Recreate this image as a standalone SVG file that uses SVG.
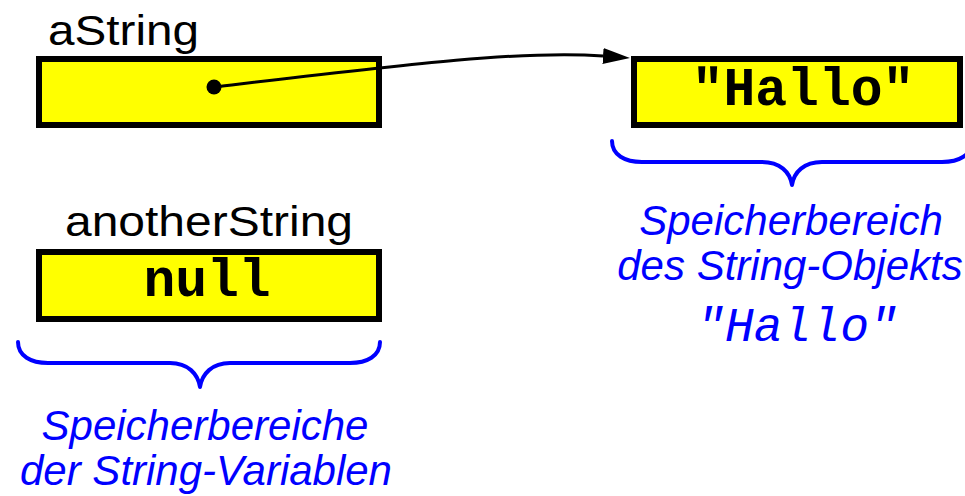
<svg xmlns="http://www.w3.org/2000/svg" width="965" height="496" viewBox="0 0 965 496">
  <defs>
    <style>
      .box { fill: #FFFF00; stroke: #000000; stroke-width: 6; }
      .label { font-family: "Liberation Sans", Arial, sans-serif; font-size: 43px; fill: #000000; }
      .code { font-family: "Liberation Mono", "Courier New", monospace; font-weight: bold; font-size: 53px; fill: #000000; text-anchor: middle; }
      .note { font-family: "Liberation Sans", Arial, sans-serif; font-style: italic; font-size: 42px; fill: #0000FF; text-anchor: middle; }
      .notecode { font-family: "Liberation Mono", "Courier New", monospace; font-style: italic; font-size: 48px; fill: #0000FF; text-anchor: middle; }
      .brace { fill: none; stroke: #0000FF; stroke-width: 4; stroke-linecap: round; stroke-linejoin: round; }
      .ref { fill: none; stroke: #000000; stroke-width: 3; }
    </style>
    <marker id="arrow" markerUnits="userSpaceOnUse" markerWidth="28" markerHeight="16" refX="0" refY="8" orient="auto">
      <path d="M0,0 L27,8 L0,16 Z" fill="#000000"/>
    </marker>
  </defs>

  <g id="aString">
    <text class="label" x="48" y="45" textLength="151" lengthAdjust="spacingAndGlyphs">aString</text>
    <rect class="box" x="39" y="59" width="340" height="66"/>
    <circle cx="214" cy="87" r="7.5" fill="#000000"/>
  </g>

  <g id="anotherString">
    <text class="label" x="65" y="236" textLength="288" lengthAdjust="spacingAndGlyphs">anotherString</text>
    <rect class="box" x="39" y="252" width="340" height="67"/>
    <text class="code" x="207" y="296">null</text>
  </g>

  <g id="hallo">
    <rect class="box" x="634" y="59" width="326" height="66"/>
    <text class="code" x="803" y="105">"Hallo"</text>
  </g>

  <g id="brace-variables">
    <path class="brace" d="M18,342 C18,356 31,363 48,363 L170,363 C188,363 198,374 200,387 C202,374 212,363 230,363 L350,363 C367,363 380,356 380,342"/>
    <text class="note" x="205" y="440">Speicherbereiche</text>
    <text class="note" x="206" y="485">der String-Variablen</text>
  </g>

  <g id="brace-object">
    <path class="brace" d="M612,141 C612,155 625,162 642,162 L762,162 C780,162 790,172 792,185 C794,172 804,162 822,162 L942,162 C959,162 972,155 972,141"/>
    <text class="note" x="791" y="235">Speicherbereich</text>
    <text class="note" x="790" y="280">des String-Objekts</text>
    <text class="notecode" x="797" y="341">"Hallo"</text>
  </g>

  <g id="connectors">
    <path class="ref" d="M214,87 C400,65 520,50 603,56" marker-end="url(#arrow)"/>
  </g>
</svg>
